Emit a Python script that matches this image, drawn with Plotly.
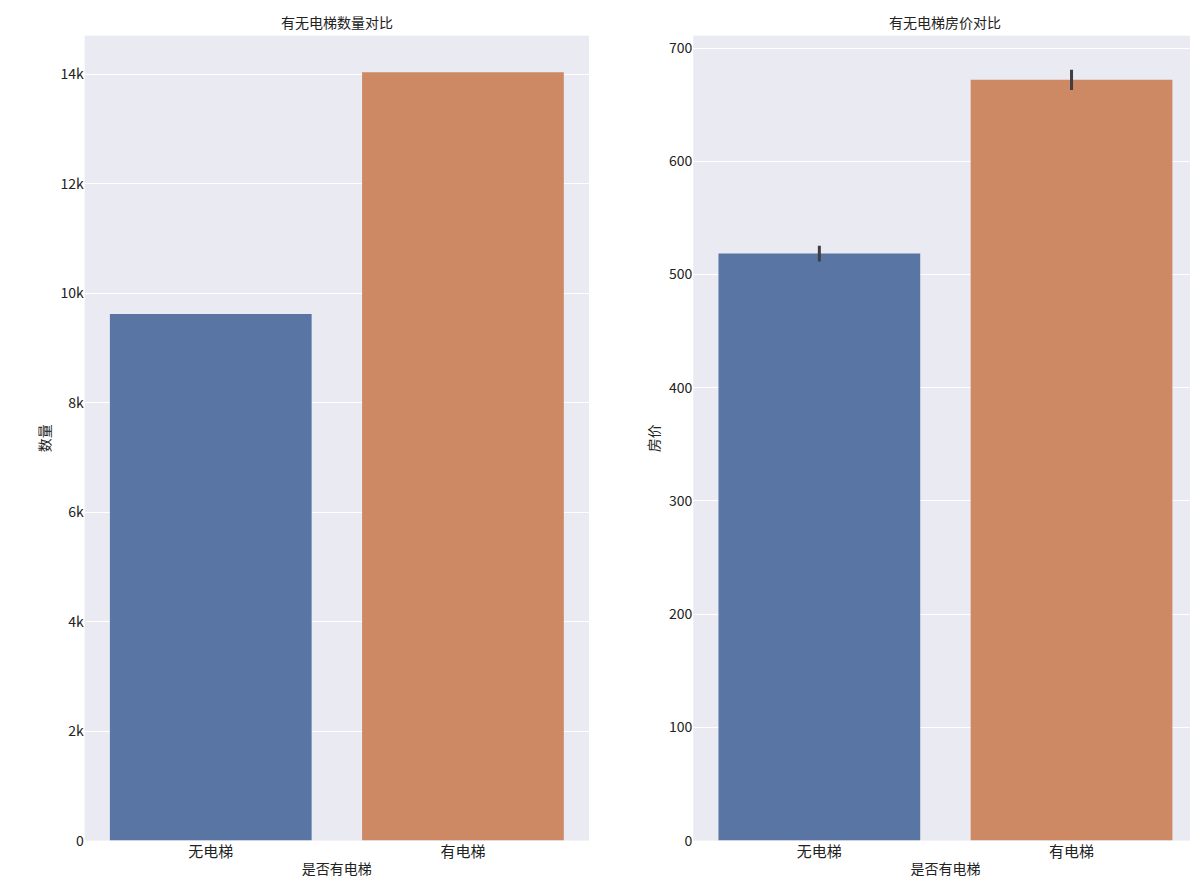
import plotly.graph_objects as go

categories = ["无电梯", "有电梯"]
counts = [9623, 14036]
prices = [518.5, 672]
price_err_low = [7, 9]
price_err_high = [7, 9]
colors = ["#5975a4", "#cc8963"]

font = "Noto Sans CJK SC"
fig = go.Figure()
fig.add_trace(go.Bar(x=categories, y=counts, marker=dict(color=colors, line=dict(width=0)),
                     xaxis="x", yaxis="y", showlegend=False))
fig.add_trace(go.Bar(x=categories, y=prices, marker=dict(color=colors, line=dict(width=0)),
                     error_y=dict(type="data", array=price_err_high, arrayminus=price_err_low,
                                  color="#3f3f3f", thickness=3, width=0),
                     xaxis="x2", yaxis="y2", showlegend=False))

ax = dict(showgrid=False, ticks="", tickfont=dict(size=15, color="#222"), zeroline=False, showline=False)
ay = dict(showgrid=True, gridcolor="white", gridwidth=1, ticks="", zeroline=False,
          tickfont=dict(size=14, color="#222"))
fig.update_layout(
    width=1198, height=891, margin=dict(l=0, r=0, t=0, b=0),
    paper_bgcolor="white", plot_bgcolor="#EAEAF2", bargap=0.2,
    font=dict(family=font, color="#222"),
    xaxis=dict(ax, domain=[0.064, 0.485], anchor="y",
               title=dict(text="是否有电梯", font=dict(size=14), standoff=4)),
    yaxis=dict(ay, domain=[0.056, 0.9686], anchor="x", range=[0, 14706], dtick=2000,
               title=dict(text="数量", font=dict(size=14), standoff=6)),
    xaxis2=dict(ax, domain=[0.572, 0.993], anchor="y2",
                title=dict(text="是否有电梯", font=dict(size=14), standoff=4)),
    yaxis2=dict(ay, domain=[0.056, 0.9686], anchor="x2", range=[0, 711], dtick=100,
                title=dict(text="房价", font=dict(size=14), standoff=6)),
    annotations=[
        dict(text="有无电梯数量对比", x=0.2745, y=0.9686, xref="paper", yref="paper",
             xanchor="center", yanchor="bottom", showarrow=False, font=dict(size=14), yshift=2),
        dict(text="有无电梯房价对比", x=0.7825, y=0.9686, xref="paper", yref="paper",
             xanchor="center", yanchor="bottom", showarrow=False, font=dict(size=14), yshift=2),
    ],
)
fig.add_shape(type="rect", xref="paper", yref="paper", x0=0.064, x1=0.485, y0=0.056, y1=0.9686,
              line=dict(width=0), layer="below")
fig.write_html("out.html")
